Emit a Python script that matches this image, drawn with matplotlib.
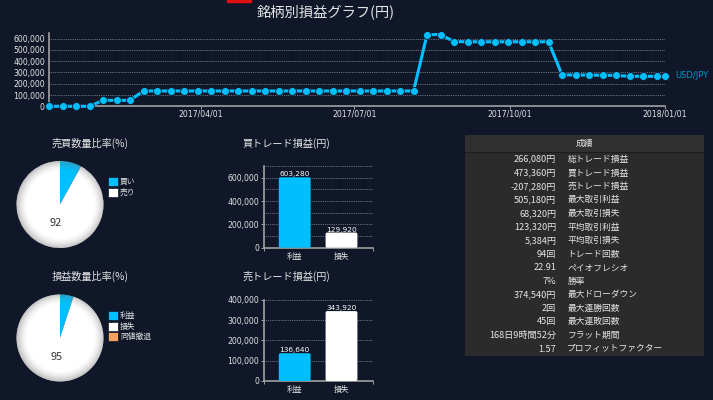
import matplotlib
matplotlib.use("Agg")
import matplotlib.pyplot as plt
import matplotlib.dates as mdates
from matplotlib.patches import Circle, FancyBboxPatch, Patch, Rectangle
from matplotlib.ticker import FuncFormatter
import numpy as np
import pandas as pd

plt.rcParams["font.family"] = ["Noto Sans CJK JP", "DejaVu Sans"]

W, H = 713, 400
BG = "#0f1729"
BLUE = "#00bfff"
TXT = "#e4e4e4"

# total profit curve, one point per 8 days + the closing date
dates = list(pd.date_range("2017-01-01", "2017-12-27", freq="8D")) + [pd.Timestamp("2018-01-01")]
profit = [
    0, 0, 0, 0, 53000, 53000, 53000, 136000, 136000, 136000, 136000, 136000,
    136000, 136000, 136000, 136000, 136000, 136000, 136000, 136000, 136000, 136000,
    136000, 136000, 136000, 136000, 136000, 136000, 636000, 636000, 574000, 572000,
    572000, 572000, 572000, 572000, 572000, 572000, 278000, 278000, 277000, 275000,
    274000, 266000, 266000, 266000, 266080,
]
date_ticks = ["2017-04-01", "2017-07-01", "2017-10-01", "2018-01-01"]
line_yticks = [0, 100000, 200000, 300000, 400000, 500000, 600000]

pie_buy = [8, 92]
pie_buy_labels = ["買い", "売り"]
pie_win = [5, 95, 0]
pie_win_labels = ["利益", "損失", "同値撤退"]

bar_cats = ["利益", "損失"]
bar_buy = [603280, 129920]
bar_sell = [136640, 343920]

table_values = [
    "266,080円", "473,360円", "-207,280円", "505,180円", "68,320円", "123,320円", "5,384円",
    "94回", "22.91", "7%", "374,540円", "2回", "45回", "168日9時間52分", "1.57",
]
table_labels = [
    "総トレード損益", "買トレード損益", "売トレード損益", "最大取引利益", "最大取引損失",
    "平均取引利益", "平均取引損失", "トレード回数", "ペイオフレシオ", "勝率",
    "最大ドローダウン", "最大連勝回数", "最大連敗回数", "フラット期間", "プロフィットファクター",
]

fig = plt.figure(figsize=(W / 100, H / 100), dpi=100, facecolor=BG)


def box(x0, y0, x1, y1):
    # pixel box (top-left origin) to an axes
    ax = fig.add_axes([x0 / W, 1 - y1 / H, (x1 - x0) / W, (y1 - y0) / H])
    ax.set_facecolor("none")
    return ax


def label(x, y, s, size=7.3, **kw):
    fig.text(x / W, 1 - y / H, s, size=size, color=kw.pop("color", TXT),
             ha=kw.pop("ha", "center"), va="center", **kw)


def style_axes(ax):
    ax.spines["top"].set_visible(False)
    ax.spines["right"].set_visible(False)
    for s in ["left", "bottom"]:
        ax.spines[s].set_color("#a0a0a0")
        ax.spines[s].set_linewidth(1.2)
    ax.yaxis.set_major_formatter(FuncFormatter(lambda v, p: f"{int(v):,}"))
    ax.tick_params(colors="#a0a0a0", labelcolor=TXT, labelsize=5.6, length=2, width=0.7, pad=1.5)
    for t in ax.get_xticklabels() + ax.get_yticklabels():
        t.set_family(["DejaVu Sans", "Noto Sans CJK JP"])


fig.patches.append(Rectangle((227 / W, 1 - 2 / H), 24 / W, 2 / H, transform=fig.transFigure, color="#e01010"))

# line chart
label(326, 12, "銘柄別損益グラフ(円)", size=10.3)
ax = box(49, 33, 665, 106.3)
ax.plot(dates, profit, color=BLUE, lw=2.2, marker="o", ms=5.7, mec=BG, mew=0.6, clip_on=False, zorder=3)
ax.set_xlim(pd.Timestamp("2017-01-01"), pd.Timestamp("2018-01-01"))
ax.set_ylim(0, 650000)
ax.set_yticks(line_yticks)
ax.set_xticks([mdates.date2num(pd.Timestamp(d)) for d in date_ticks])
ax.xaxis.set_major_formatter(mdates.DateFormatter("%Y/%m/%d"))
ax.grid(axis="y", color="#8a8f99", lw=0.6, ls=(0, (1, 1.2)))
style_axes(ax)
ax.tick_params(axis="y", length=0, pad=3)
ax.tick_params(axis="x", pad=0.5)
label(692, 75, "USD/JPY", size=6, color="#0099cc", family="DejaVu Sans")


def draw_pie(cy, values, labels, title, title_y, legend_y):
    label(90, title_y, title)
    ax = box(15.5, cy - 44.5, 104.5, cy + 44.5)
    colors = [BLUE, "#ffffff", "#f4a460"][: len(values)]
    big = max(values)
    ax.pie(values, colors=colors, startangle=90, counterclock=False, radius=1,
           pctdistance=0.44, autopct=lambda p: f"{p:.0f}" if round(p) == big else "",
           textprops={"size": 7.8, "color": "#333333"}, wedgeprops={"linewidth": 0})
    # grey rim shading
    yy, xx = np.mgrid[-1:1:200j, -1:1:200j]
    rr = np.hypot(xx, yy)
    shade = np.zeros((200, 200, 4))
    shade[..., :3] = 0.45
    shade[..., 3] = np.clip((rr - 0.76) / 0.24, 0, 1) ** 1.6 * 0.42
    im = ax.imshow(shade, extent=(-1, 1, -1, 1), zorder=2, interpolation="bilinear")
    im.set_clip_path(Circle((0, 0), 1, transform=ax.transData))
    ax.set_xlim(-1.023, 1.023)
    ax.set_ylim(-1.023, 1.023)
    handles = [Patch(facecolor=c, edgecolor=BG, linewidth=0.5) for c in colors]
    fig.legend(handles, labels, loc="upper left", bbox_to_anchor=(105.5 / W, 1 - legend_y / H),
               frameon=False, fontsize=5.6, labelcolor=TXT, handlelength=1.35, handleheight=1.35,
               handletextpad=0.2, labelspacing=0.2, borderpad=0.3, borderaxespad=0)


draw_pie(204.5, pie_buy, pie_buy_labels, "売買数量比率(%)", 143, 175)
draw_pie(338, pie_win, pie_win_labels, "損益数量比率(%)", 276, 309)


def draw_bar(y_top, y_zero, ymax, values, yticks, title, title_y):
    label(286, title_y, title)
    ax = box(264, y_top, 373, y_zero)
    bars = ax.bar(range(len(bar_cats)), values, width=0.68, color="none")
    ax.set_xlim(-0.656, 1.673)
    ax.set_ylim(0, ymax)
    aspect = (ymax / (y_zero - y_top)) / (2.329 / 109)
    for rect, c, v in zip(bars, [BLUE, "#ffffff"], values):
        ax.add_patch(FancyBboxPatch((rect.get_x(), 0), rect.get_width(), v, boxstyle="round,pad=0,rounding_size=0.035",
                                    mutation_aspect=aspect, facecolor=c, edgecolor="none", zorder=3))
        ax.text(rect.get_x() + rect.get_width() / 2, v, f"{v:,}", ha="center", va="bottom", size=5.3,
                color="white", family="DejaVu Sans", zorder=4)
    ax.set_yticks(yticks)
    ax.set_yticks(np.arange(100000, ymax + 1, 100000), minor=True)
    ax.set_xticks(range(len(bar_cats)), bar_cats)
    ax.set_xticks([-0.656, 1.673], minor=True)
    ax.grid(axis="y", which="both", color="#8a8f99", lw=0.6, ls=(0, (1, 1.2)))
    ax.set_axisbelow(True)
    style_axes(ax)
    ax.tick_params(axis="x", which="major", length=0, pad=3, labelsize=5.6)
    ax.tick_params(axis="x", which="minor", length=2, width=0.7, color="#a0a0a0")
    ax.tick_params(axis="y", which="minor", length=0)


draw_bar(166, 247.7, 700000, bar_buy, [0, 200000, 400000, 600000], "買トレード損益(円)", 143)
draw_bar(299.7, 381, 400000, bar_sell, [0, 100000, 200000, 300000, 400000], "売トレード損益(円)", 276)

# results table
tb = box(465, 135, 704, 356)
tb.set_xlim(0, 239)
tb.set_ylim(221, 0)
tb.axis("off")
tb.add_patch(Rectangle((0, 0), 239, 221, color="#2b2b2b", lw=0))
tb.add_patch(Rectangle((0, 0), 239, 16.5, color="#303030", lw=0))
tb.plot([0, 239], [16.8, 16.8], color="#1c1c1c", lw=0.8)
tb.text(119, 8.5, "成績", size=6.3, color=TXT, ha="center", va="center")
for i, (v, l) in enumerate(zip(table_values, table_labels)):
    y = 24.3 + 13.55 * i
    tb.text(91.3, y, v, size=6.6, color=TXT, ha="right", va="center")
    tb.text(102.3, y, l, size=6.3, color=TXT, ha="left", va="center")

fig.savefig("out.png", dpi=100, facecolor=BG)
